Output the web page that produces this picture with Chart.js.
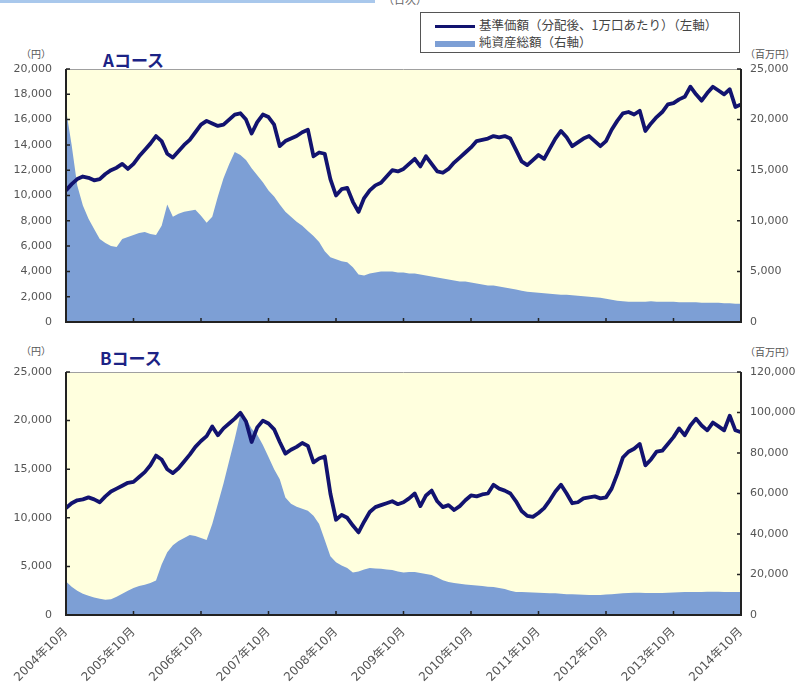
<!DOCTYPE html>
<html lang="ja">
<head>
<meta charset="utf-8">
<title>基準価額・純資産総額の推移</title>
<script src="https://cdn.jsdelivr.net/npm/chart.js@4.4.1/dist/chart.umd.min.js"></script>
<style>
  body { margin: 0; width: 801px; height: 682px; overflow: hidden; position: relative; background: #fff;
         font-family: "DejaVu Sans", "Noto Sans CJK JP", sans-serif; color: #555; }
  .abs { position: absolute; white-space: nowrap; }
  .unit { font-size: 10px; color: #555; font-family: "Noto Sans CJK JP", sans-serif; }
  .course { font-size: 17px; font-weight: bold; color: #1c2385; font-family: "Noto Sans CJK JP", sans-serif; }
  #topbar { left: 0; top: 0; width: 375px; height: 3px; background: #a9c8ec; }
  #daily { left: 383px; top: -9px; font-size: 11px; color: #666; font-family: "Noto Sans CJK JP", sans-serif; }
  #legend { left: 420px; top: 12px; width: 318px; height: 39px; border: 1.5px solid #555; background: #fff;
            font-family: "Noto Sans CJK JP", sans-serif; font-size: 12.5px; color: #444; }
  #legend .row { position: absolute; left: 14px; height: 16px; line-height: 16px; }
  #legend .sw { display: inline-block; width: 40px; vertical-align: middle; margin-right: 4px; }
  #legend .line { height: 3px; background: #12136f; }
  #legend .fill { height: 6px; background: #7d9fd5; }
  canvas { position: absolute; left: 0; }
</style>
</head>
<body>
<div class="abs" id="topbar"></div>
<div class="abs" id="daily">（日次）</div>
<div class="abs" id="legend">
  <div class="row" style="top:4px"><span class="sw line"></span>基準価額（分配後、1万口あたり）（左軸）</div>
  <div class="row" style="top:21px"><span class="sw fill"></span>純資産総額（右軸）</div>
</div>

<div class="abs unit" style="left:21px; top:46px;">（円）</div>
<div class="abs unit" style="left:745px; top:46px;">（百万円）</div>
<div class="abs course" style="left:103px; top:47px;">Aコース</div>

<div class="abs unit" style="left:21px; top:343px;">（円）</div>
<div class="abs unit" style="left:745px; top:344px;">（百万円）</div>
<div class="abs course" style="left:100px; top:345px;">Bコース</div>

<canvas id="chartA" width="801" height="275" style="top:60px"></canvas>
<canvas id="chartB" width="801" height="320" style="top:362px"></canvas>

<script>
// month-end values, 2004年10月 .. 2014年10月 (index 0..120)
const yearTicks = ["2004年10月", "2005年10月", "2006年10月", "2007年10月", "2008年10月", "2009年10月",
                   "2010年10月", "2011年10月", "2012年10月", "2013年10月", "2014年10月"];

// Aコース 基準価額 (円)
const navA = [
  10400, 10900, 11300, 11500, 11400, 11200, 11300, 11700, 12000, 12200, 12500, 12100,
  12500, 13100, 13600, 14100, 14700, 14300, 13300, 13000, 13500, 14000, 14400, 15000,
  15600, 15900, 15700, 15500, 15600, 16000, 16400, 16500, 16000, 14900, 15800, 16400,
  16200, 15600, 13900, 14300, 14500, 14700, 15000, 15200, 13100, 13400, 13300, 11300,
  10000, 10500, 10600, 9500, 8700, 9800, 10400, 10800, 11000, 11500, 12000, 11900,
  12100, 12500, 12900, 12300, 13100, 12500, 11900, 11800, 12100, 12600, 13000, 13400,
  13800, 14300, 14400, 14500, 14700, 14600, 14700, 14500, 13600, 12700, 12400, 12800,
  13200, 12900, 13700, 14500, 15100, 14600, 13900, 14200, 14500, 14700, 14300, 13900,
  14300, 15200, 15900, 16500, 16600, 16400, 16700, 15100, 15700, 16200, 16600, 17200,
  17300, 17600, 17800, 18600, 18000, 17500, 18100, 18600, 18300, 18000, 18400, 17000,
  17200
];

// Aコース 純資産総額 (百万円)
const assetsA = [
  21000, 17500, 13500, 11500, 10200, 9200, 8200, 7800, 7500, 7400, 8200, 8400,
  8600, 8800, 8900, 8700, 8600, 9500, 11600, 10400, 10700, 10900, 11000, 11100,
  10500, 9800, 10400, 12400, 14200, 15600, 16800, 16500, 16000, 15200, 14500, 13800,
  13000, 12400, 11600, 10900, 10400, 9900, 9500, 9000, 8500, 7900, 7000, 6400,
  6200, 6000, 5900, 5400, 4700, 4600, 4800, 4900, 5000, 5000, 5000, 4900,
  4900, 4800, 4800, 4700, 4600, 4500, 4400, 4300, 4200, 4100, 4000, 4000,
  3900, 3800, 3700, 3600, 3600, 3500, 3400, 3300, 3200, 3100, 3000, 2950,
  2900, 2850, 2800, 2750, 2700, 2700, 2650, 2600, 2550, 2500, 2450, 2400,
  2300, 2200, 2100, 2050, 2000, 2000, 2000, 2000, 2050, 2000, 2000, 2000,
  2000, 1950, 1950, 1950, 1950, 1900, 1900, 1900, 1900, 1850, 1850, 1800,
  1800
];

// Bコース 基準価額 (円)
const navB = [
  11000, 11500, 11800, 11900, 12100, 11900, 11600, 12200, 12700, 13000, 13300, 13600,
  13700, 14200, 14700, 15400, 16400, 16000, 15000, 14600, 15100, 15800, 16500, 17300,
  17900, 18400, 19400, 18500, 19200, 19700, 20200, 20800, 19900, 17800, 19300, 20000,
  19700, 19100, 17800, 16600, 17000, 17300, 17700, 17400, 15700, 16100, 16300, 12500,
  9800, 10300, 10000, 9200, 8500, 9600, 10600, 11100, 11300, 11500, 11700, 11400,
  11600, 12000, 12500, 11200, 12300, 12800, 11700, 11100, 11300, 10800, 11200, 11800,
  12300, 12200, 12400, 12500, 13400, 13000, 12800, 12500, 11700, 10700, 10200, 10100,
  10500, 11000, 11800, 12700, 13400, 12500, 11500, 11600, 12000, 12100, 12200, 12000,
  12100, 13000, 14500, 16200, 16800, 17100, 17600, 15400, 16000, 16800, 16900, 17600,
  18300, 19200, 18500, 19500, 20200, 19500, 19000, 19800, 19400, 19000, 20500, 19000,
  18800
];

// Bコース 純資産総額 (百万円)
const assetsB = [
  16500, 14000, 12000, 10500, 9500, 8600, 8000, 7500, 7800, 9000, 10500, 12000,
  13300, 14300, 15000, 15800, 17000, 25000, 31000, 34500, 36500, 38000, 39500, 39000,
  38000, 37000, 45000, 55000, 65000, 76000, 87000, 99000, 97000, 92000, 89000, 84000,
  78000, 72000, 67000, 58000, 55000, 53500, 52500, 51500, 49000, 45000, 37000, 29000,
  26000, 24500, 23200, 21000, 21500, 22500, 23200, 23000, 22800, 22500, 22200, 21500,
  21000, 21200, 21200, 20800, 20200, 19800, 18500, 17200, 16300, 15800, 15400, 15100,
  14800, 14600, 14300, 14000, 13800, 13300, 12800, 12000, 11400, 11300, 11200, 11100,
  11000, 10900, 10800, 10700, 10500, 10300, 10200, 10100, 10000, 9900, 9900, 9900,
  10100, 10300, 10500, 10700, 10900, 11000, 11000, 10900, 10900, 10900, 10900, 11000,
  11100, 11200, 11300, 11400, 11400, 11400, 11500, 11500, 11500, 11400, 11400, 11400,
  11400
];

const NAV_COLOR = "#12136f";
const AREA_COLOR = "#7d9fd5";
const PLOT_BG = "#ffffde";
const LABEL_FONT = { family: "'DejaVu Sans', 'Noto Sans CJK JP', sans-serif", size: 11 };

const toPoints = arr => arr.map((v, i) => ({ x: i, y: v }));
const fmt = v => Number(v).toLocaleString("en-US");

// yellow plot background, frame and inward tick marks
const framePlugin = {
  id: "frame",
  beforeDatasetsDraw(chart) {
    const { ctx, chartArea: a } = chart;
    ctx.save();
    ctx.fillStyle = PLOT_BG;
    ctx.fillRect(a.left, a.top, a.right - a.left, a.bottom - a.top);
    ctx.restore();
  },
  afterDatasetsDraw(chart) {
    const { ctx, chartArea: a, scales } = chart;
    ctx.save();
    ctx.strokeStyle = "#a0a0a0";
    ctx.lineWidth = 1;
    ctx.beginPath();
    ctx.moveTo(a.left, a.top + 0.5);
    ctx.lineTo(a.right, a.top + 0.5);
    ctx.stroke();

    ctx.strokeStyle = "#222";
    ctx.lineWidth = 2;
    ctx.beginPath();
    ctx.moveTo(a.left, a.top);
    ctx.lineTo(a.left, a.bottom);
    ctx.lineTo(a.right, a.bottom);
    ctx.lineTo(a.right, a.top);
    ctx.stroke();

    ctx.lineWidth = 1.5;
    ctx.beginPath();
    scales.y.ticks.forEach(t => {
      const y = scales.y.getPixelForValue(t.value);
      ctx.moveTo(a.left, y);
      ctx.lineTo(a.left + 4, y);
    });
    scales.y1.ticks.forEach(t => {
      const y = scales.y1.getPixelForValue(t.value);
      ctx.moveTo(a.right - 4, y);
      ctx.lineTo(a.right, y);
    });
    yearTicks.forEach((_, k) => {
      const x = scales.x.getPixelForValue(k * 12);
      ctx.moveTo(x, a.bottom);
      ctx.lineTo(x, a.bottom - 4);
    });
    ctx.stroke();
    ctx.restore();
  }
};

// invisible tick marks only reserve the gap between axis and labels
const gapGrid = len => ({ display: true, drawOnChartArea: false, drawTicks: true, tickLength: len, color: "rgba(0,0,0,0)" });

function makeChart(id, nav, assets, leftMax, leftStep, rightMax, rightStep, showDates, padTop, padBottom) {
  const ctx = document.getElementById(id).getContext("2d");
  return new Chart(ctx, {
    type: "line",
    data: {
      datasets: [
        {
          label: "基準価額（分配後、1万口あたり）（左軸）",
          data: toPoints(nav),
          yAxisID: "y",
          borderColor: NAV_COLOR,
          borderWidth: 3.8,
          borderJoinStyle: "round",
          pointRadius: 0,
          tension: 0,
          fill: false
        },
        {
          label: "純資産総額（右軸）",
          data: toPoints(assets),
          yAxisID: "y1",
          borderWidth: 0,
          backgroundColor: AREA_COLOR,
          pointRadius: 0,
          tension: 0,
          fill: "origin"
        }
      ]
    },
    options: {
      responsive: false,
      animation: false,
      layout: { padding: { top: padTop, bottom: padBottom, left: 0, right: 0 } },
      plugins: { legend: { display: false }, tooltip: { enabled: false } },
      scales: {
        x: {
          type: "linear",
          min: 0,
          max: 120,
          grid: { display: false },
          border: { display: false },
          ticks: {
            display: showDates,
            stepSize: 12,
            autoSkip: false,
            minRotation: 45,
            maxRotation: 45,
            padding: 2,
            color: "#555",
            font: { family: "'DejaVu Sans', 'Noto Sans CJK JP', sans-serif", size: 12 },
            callback: v => yearTicks[v / 12]
          },
          afterFit: s => { s.height = showDates ? 67 : 0; }
        },
        y: {
          position: "left",
          min: 0,
          max: leftMax,
          grid: gapGrid(12),
          border: { display: false },
          ticks: { stepSize: leftStep, padding: 2, color: "#555", font: LABEL_FONT, callback: fmt },
          afterFit: s => { s.width = 66; }
        },
        y1: {
          position: "right",
          min: 0,
          max: rightMax,
          grid: gapGrid(7),
          border: { display: false },
          ticks: { stepSize: rightStep, padding: 2, color: "#555", font: LABEL_FONT, callback: fmt },
          afterFit: s => { s.width = 60; }
        }
      }
    },
    plugins: [framePlugin]
  });
}

makeChart("chartA", navA, assetsA, 20000, 2000, 25000, 5000, false, 9, 13);
makeChart("chartB", navB, assetsB, 25000, 5000, 120000, 20000, true, 10, 0);
</script>
</body>
</html>
